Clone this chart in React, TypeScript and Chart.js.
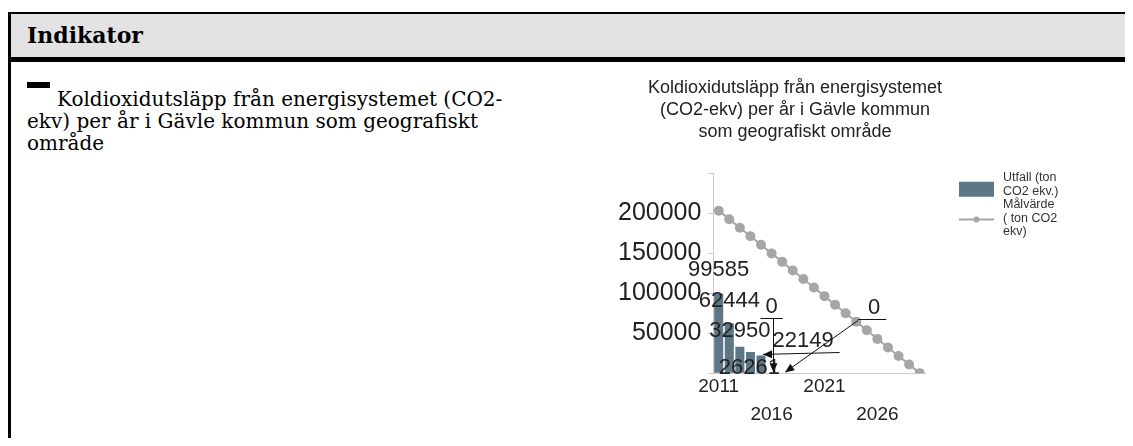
import React, { useEffect, useRef } from 'react';
import { Chart, registerables } from 'chart.js';

Chart.register(...registerables);

// ---------- data ----------
const years = ['2011', '2012', '2013', '2014', '2015', '2016', '2017', '2018', '2019', '2020',
  '2021', '2022', '2023', '2024', '2025', '2026', '2027', '2028', '2029', '2030'];
const utfall: (number | null)[] = [99585, 62444, 32950, 26261, 22149, 0, 0,
  null, null, null, null, null, null, null, null, null, null, null, null, null];
const malvarde: number[] = [203000, 192300, 181600, 171000, 160300, 149600, 139000, 128200, 117500, 106900,
  96200, 85500, 74900, 64100, 53500, 42800, 32100, 21400, 10700, 0];
const chartTitle = ['Koldioxidutsläpp från energisystemet', '(CO2-ekv) per år i Gävle kommun', 'som geografiskt område'];
const yTickLabels = [50000, 100000, 150000, 200000];
const xTickLabels = ['2011', '2016', '2021', '2026'];
const legendUtfall = ['Utfall (ton', 'CO2 ekv.)'];
const legendMalvarde = ['Målvärde', '( ton CO2', 'ekv)'];
const headerText = 'Indikator';
const indicatorText = 'Koldioxidutsläpp från energisystemet (CO2-ekv) per år i Gävle kommun som geografiskt område';

// ---------- styles ----------
const FONT = '"Liberation Sans", Arial, sans-serif';
const BAR_COLOR = '#5e7786';
const LINE_COLOR = '#a6a6a6';
const TEXT_COLOR = '#222222';

// label offsets from each bar's value point, and leader style
const labelPlacement: { dx: number; dy: number; leader?: string }[] = [
  { dx: 0, dy: -23 },
  { dx: 0, dy: -22 },
  { dx: 0, dy: -16 },
  { dx: -1, dy: 16 },
  { dx: 42, dy: -14, leader: 'side' },
  { dx: 0, dy: -66, leader: 'down' },
  { dx: 92, dy: -65, leader: 'left' },
];

function drawArrow(ctx: CanvasRenderingContext2D, x1: number, y1: number, x2: number, y2: number) {
  ctx.beginPath();
  ctx.moveTo(x1, y1);
  ctx.lineTo(x2, y2);
  ctx.stroke();
  const a = Math.atan2(y2 - y1, x2 - x1);
  const L = 9, W = 4;
  ctx.beginPath();
  ctx.moveTo(x2, y2);
  ctx.lineTo(x2 - L * Math.cos(a) + W * Math.sin(a), y2 - L * Math.sin(a) - W * Math.cos(a));
  ctx.lineTo(x2 - L * Math.cos(a) - W * Math.sin(a), y2 - L * Math.sin(a) + W * Math.cos(a));
  ctx.closePath();
  ctx.fill();
}

const barLabelPlugin = {
  id: 'barLabels',
  afterDatasetsDraw(chart: any) {
    const meta = chart.getDatasetMeta(0);
    const ctx: CanvasRenderingContext2D = chart.ctx;
    ctx.save();
    ctx.font = `22px ${FONT}`;
    ctx.strokeStyle = '#111';
    ctx.lineWidth = 1;
    ctx.textAlign = 'center';
    ctx.textBaseline = 'middle';
    utfall.forEach((v, i) => {
      if (v === null || v === undefined) return;
      const el = meta.data[i];
      if (!el) return;
      const px = el.x, py = el.y;
      const p = labelPlacement[i] || { dx: 0, dy: -20 };
      const tx = px + p.dx, ty = py + p.dy;
      const text = String(v);
      ctx.fillStyle = TEXT_COLOR;
      ctx.fillText(text, tx, ty);
      const w = ctx.measureText(text).width;
      const uy = Math.round(ty + 11) + 0.5;
      ctx.fillStyle = '#111';
      if (p.leader === 'side') {
        drawArrow(ctx, tx + w / 2 + 6, uy, px + 2, py - 1);
      } else if (p.leader === 'down') {
        ctx.beginPath();
        ctx.moveTo(tx - w / 2 - 5, uy);
        ctx.lineTo(tx + w / 2 + 5, uy);
        ctx.stroke();
        drawArrow(ctx, Math.round(tx) + 1.5, uy, Math.round(px) + 1.5, py - 1);
      } else if (p.leader === 'left') {
        ctx.beginPath();
        ctx.moveTo(tx - w / 2 - 10, uy);
        ctx.lineTo(tx + w / 2 + 6, uy);
        ctx.stroke();
        drawArrow(ctx, tx - w / 2 - 10, uy + 1, px + 3, py - 1);
      }
    });
    ctx.restore();
  },
};

// chart title centred over the whole canvas (plot + legend)
const titlePlugin = {
  id: 'centerTitle',
  afterDraw(chart: any) {
    const ctx: CanvasRenderingContext2D = chart.ctx;
    ctx.save();
    ctx.font = `18px ${FONT}`;
    ctx.fillStyle = TEXT_COLOR;
    ctx.textAlign = 'center';
    ctx.textBaseline = 'middle';
    const cx = chart.width / 2;
    chartTitle.forEach((t, i) => ctx.fillText(t, cx, 26 + i * 22));
    ctx.restore();
  },
};

const legendPlugin = {
  id: 'sideLegend',
  afterDraw(chart: any) {
    const ctx: CanvasRenderingContext2D = chart.ctx;
    const area = chart.chartArea;
    const x0 = area.right + 34;
    const tx = x0 + 44;
    const lh = 13.5;
    const top = area.top + 5;
    ctx.save();
    ctx.font = `12.5px ${FONT}`;
    ctx.fillStyle = '#333';
    ctx.textAlign = 'left';
    ctx.textBaseline = 'middle';
    legendUtfall.forEach((t, i) => ctx.fillText(t, tx, top + i * lh));
    const top2 = top + legendUtfall.length * lh;
    legendMalvarde.forEach((t, i) => ctx.fillText(t, tx, top2 + i * lh));
    // bar symbol
    ctx.fillStyle = BAR_COLOR;
    const boxC = top + lh / 2 + 4;
    ctx.fillRect(x0, boxC - 7, 35, 15);
    // line symbol
    const ly = top2 + lh + 1;
    ctx.strokeStyle = LINE_COLOR;
    ctx.lineWidth = 2;
    ctx.beginPath();
    ctx.moveTo(x0, ly);
    ctx.lineTo(x0 + 35, ly);
    ctx.stroke();
    ctx.fillStyle = LINE_COLOR;
    ctx.beginPath();
    ctx.arc(x0 + 17.5, ly, 3, 0, Math.PI * 2);
    ctx.fill();
    ctx.restore();
  },
};

function IndicatorChart() {
  const ref = useRef<HTMLCanvasElement | null>(null);
  useEffect(() => {
    if (!ref.current) return;
    const chart = new Chart(ref.current, {
      type: 'bar',
      data: {
        labels: years,
        datasets: [
          {
            type: 'bar',
            label: legendUtfall.join(' '),
            data: utfall,
            backgroundColor: BAR_COLOR,
            barPercentage: 0.9,
            categoryPercentage: 0.95,
            order: 2,
          },
          {
            type: 'line',
            label: legendMalvarde.join(' '),
            data: malvarde,
            borderColor: LINE_COLOR,
            borderWidth: 2,
            pointRadius: 5,
            pointBackgroundColor: LINE_COLOR,
            pointBorderWidth: 0,
            order: 1,
          },
        ],
      } as any,
      options: {
        responsive: false,
        animation: false,
        layout: { padding: { left: 82, right: 135, top: 111, bottom: 17 } },
        plugins: {
          legend: { display: false },
          tooltip: { enabled: false },
          title: { display: false },
        },
        scales: {
          x: {
            offset: true,
            grid: { display: false, drawTicks: false },
            border: { display: true, color: '#cccccc', width: 1 },
            ticks: {
              autoSkip: false,
              maxRotation: 0,
              minRotation: 0,
              padding: 0,
              color: TEXT_COLOR,
              font: { family: FONT, size: 19, lineHeight: 1.47 },
              callback: (_v: any, i: number) => {
                const lab = years[i];
                const k = xTickLabels.indexOf(lab);
                if (k < 0) return '';
                return k % 2 === 0 ? lab : ['', lab];
              },
            },
          },
          y: {
            min: 0,
            max: 250000,
            grid: { display: true, drawOnChartArea: false, drawTicks: true, tickLength: 6, color: '#cccccc' },
            border: { display: true, color: '#cccccc', width: 1 },
            ticks: {
              stepSize: 50000,
              padding: 6,
              color: TEXT_COLOR,
              font: { family: FONT, size: 25 },
              callback: (v: any) => (yTickLabels.includes(Number(v)) ? String(v) : ''),
            },
          },
        },
      } as any,
      plugins: [barLabelPlugin, titlePlugin, legendPlugin],
    });
    return () => chart.destroy();
  }, []);
  return <canvas ref={ref} width={530} height={384} style={{ display: 'block' }} />;
}

export default function App() {
  return (
    <div
      style={{
        marginTop: 4,
        marginBottom: -8,
        width: 1125,
        boxSizing: 'border-box',
        borderTop: '2px solid #000',
        borderLeft: '3px solid #000',
        fontFamily: '"DejaVu Serif", serif',
        color: '#000',
      }}
    >
      <div
        style={{
          background: '#e3e3e3',
          height: 43,
          borderBottom: '5px solid #000',
          paddingLeft: 16,
          fontWeight: 'bold',
          fontSize: 22,
          lineHeight: '43px',
        }}
      >
        {headerText}
      </div>
      <div style={{ position: 'relative', height: 384 }}>
        <div
          style={{
            position: 'absolute',
            left: 16,
            top: 26,
            width: 490,
            fontSize: 20,
            lineHeight: '22px',
          }}
        >
          <span
            style={{
              display: 'inline-block',
              width: 23,
              height: 6,
              background: '#000',
              position: 'relative',
              top: -18,
              marginRight: 7,
            }}
          />
          {indicatorText}
        </div>
        <div style={{ position: 'absolute', left: 519, top: 0, width: 530, height: 384 }}>
          <IndicatorChart />
        </div>
      </div>
    </div>
  );
}
